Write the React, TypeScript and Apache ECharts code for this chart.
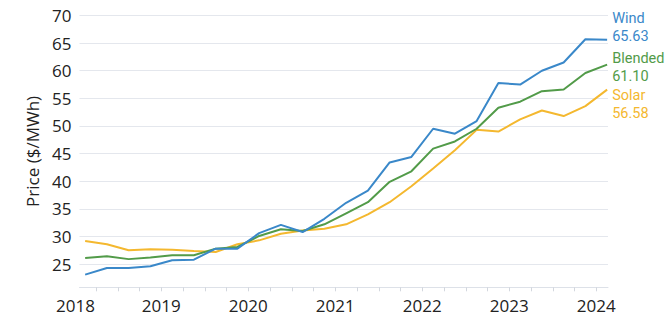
import React, { useEffect, useRef } from "react";
import * as echarts from "echarts";

const quarters = [
  "2018-Q1", "2018-Q2", "2018-Q3", "2018-Q4",
  "2019-Q1", "2019-Q2", "2019-Q3", "2019-Q4",
  "2020-Q1", "2020-Q2", "2020-Q3", "2020-Q4",
  "2021-Q1", "2021-Q2", "2021-Q3", "2021-Q4",
  "2022-Q1", "2022-Q2", "2022-Q3", "2022-Q4",
  "2023-Q1", "2023-Q2", "2023-Q3", "2023-Q4",
  "2024-Q1",
];

const wind = [23.1, 24.3, 24.3, 24.6, 25.7, 25.8, 27.8, 27.8, 30.6, 32.1, 30.8, 33.2, 36.1, 38.3, 43.4, 44.4, 49.5, 48.6, 50.9, 57.8, 57.5, 60.0, 61.5, 65.7, 65.63];
const blended = [26.1, 26.4, 25.9, 26.2, 26.6, 26.6, 27.8, 28.1, 30.1, 31.3, 31.0, 32.2, 34.2, 36.2, 39.9, 41.8, 45.9, 47.2, 49.5, 53.3, 54.4, 56.3, 56.6, 59.6, 61.1];
const solar = [29.2, 28.6, 27.5, 27.7, 27.6, 27.35, 27.2, 28.6, 29.3, 30.5, 31.1, 31.4, 32.2, 34.0, 36.2, 39.1, 42.3, 45.6, 49.3, 49.0, 51.2, 52.8, 51.8, 53.6, 56.58];

const yearTicks = [2018, 2019, 2020, 2021, 2022, 2023, 2024];
const yTicks = [25, 30, 35, 40, 45, 50, 55, 60, 65, 70];

const FONT = "'Open Sans', 'Noto Sans', sans-serif";
const LABEL_FONT = "Roboto, 'Open Sans', sans-serif";

// Quarter label -> mid-quarter position on the numeric year axis
const qToX = (q: string) => {
  const [y, qq] = q.split("-Q");
  return Number(y) + (Number(qq) - 0.5) / 4;
};

const X_MIN = 2018.06;
const X_MAX = 2024.135;

export default function App() {
  const ref = useRef<HTMLDivElement>(null);
  useEffect(() => {
    if (!ref.current) return;
    const chart = echarts.init(ref.current, null, { renderer: "svg" });
    const mk = (name: string, vals: number[], color: string, dy: number) => ({
      name,
      type: "line",
      data: quarters.map((q, i) => [qToX(q), vals[i]]),
      showSymbol: false,
      symbol: "none",
      lineStyle: { color, width: 2 },
      itemStyle: { color },
      emphasis: { disabled: true },
      endLabel: {
        show: true,
        distance: 5,
        offset: [0, dy],
        color,
        fontFamily: LABEL_FONT,
        fontSize: 14.5,
        lineHeight: 17.5,
        align: "left",
        formatter: (p: any) => `${p.seriesName}\n${Number(p.value[1]).toFixed(2)}`,
      },
    });
    const tickQuarters: number[] = [];
    quarters.forEach((q) => {
      const v = qToX(q) + 0.125;
      if (v <= X_MAX) tickQuarters.push(v);
    });
    chart.setOption({
      animation: false,
      backgroundColor: "#ffffff",
      grid: { left: 79.5, right: 62, top: 15.5, bottom: 36.7 },
      xAxis: {
        type: "value",
        min: X_MIN,
        max: X_MAX,
        axisLine: { show: true, lineStyle: { color: "#dde1e8", width: 1 } },
        axisTick: {
          show: true,
          length: 4,
          customValues: tickQuarters,
          lineStyle: { color: "#d3d7de" },
        },
        splitLine: { show: false },
        axisLabel: {
          customValues: yearTicks.map((y) => (y < X_MIN ? X_MIN : y)),
          margin: 10,
          color: "#222",
          fontFamily: FONT,
          fontSize: 17,
          formatter: (v: number) =>
            v < 2018.5 ? "{s|2018}" : String(Math.round(v)),
          rich: {
            s: { padding: [0, 8, 0, 0], color: "#222", fontFamily: FONT, fontSize: 17 },
          },
        },
      },
      yAxis: {
        type: "value",
        min: 20.8,
        max: 70,
        name: "Price ($/MWh)",
        nameLocation: "middle",
        nameRotate: 90,
        nameGap: 38,
        nameTextStyle: { color: "#222", fontFamily: FONT, fontSize: 17 },
        axisLine: { show: false },
        axisTick: { show: false, customValues: yTicks },
        splitLine: { show: true, lineStyle: { color: "#e4e7ed", width: 1.2 } },
        axisLabel: {
          customValues: yTicks,
          margin: 8,
          color: "#222",
          fontFamily: FONT,
          fontSize: 17,
        },
      },
      series: [
        mk("Solar", solar, "#f4b82f", 14.7),
        mk("Blended", blended, "#529b49", 2.9),
        mk("Wind", wind, "#3a88c9", -12.3),
      ],
    });
    return () => chart.dispose();
  }, []);
  return (
    <div
      ref={ref}
      style={{ position: "absolute", left: 0, top: 0, width: 670, height: 324 }}
    />
  );
}
